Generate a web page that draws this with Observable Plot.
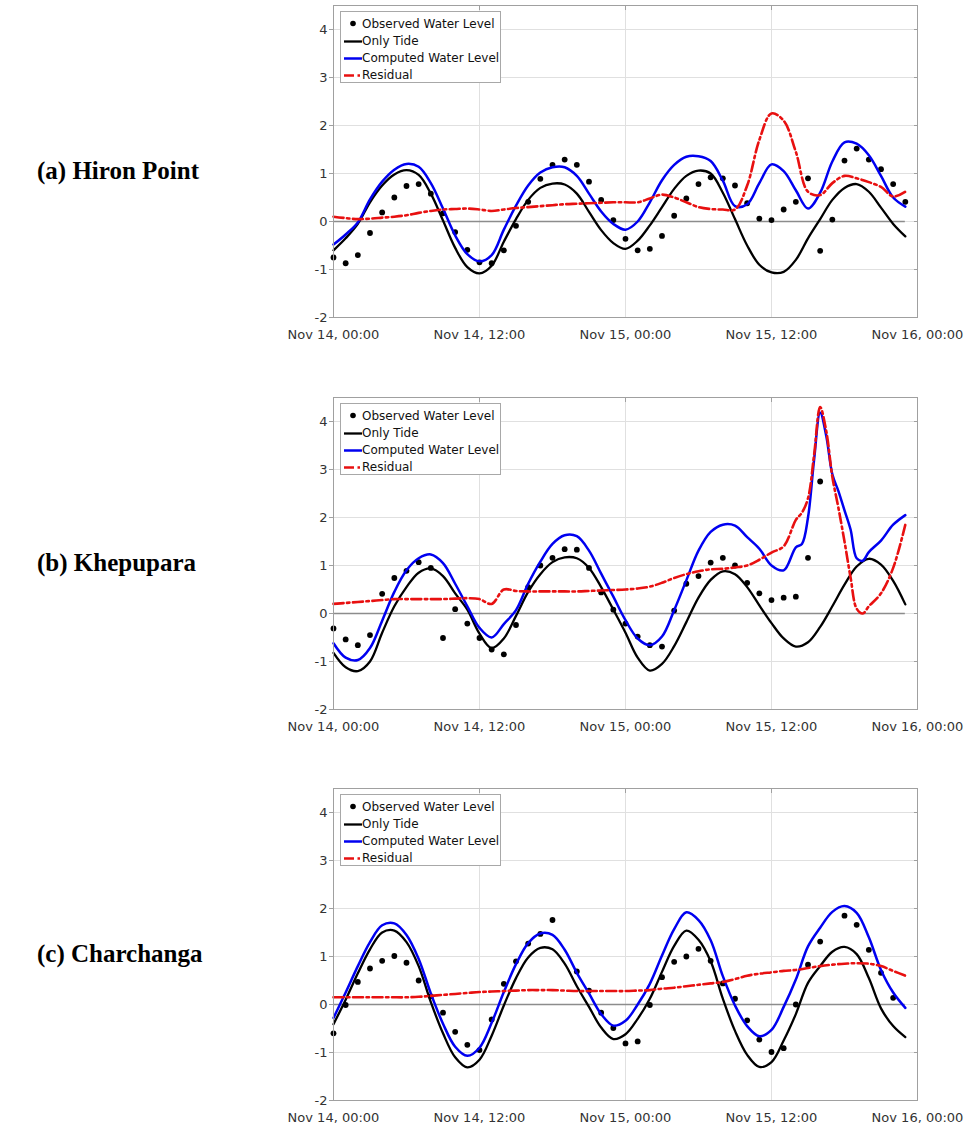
<!DOCTYPE html>
<html>
<head>
<meta charset="utf-8">
<script src="https://cdn.jsdelivr.net/npm/d3@7"></script>
<script src="https://cdn.jsdelivr.net/npm/@observablehq/plot@0.6"></script>
<style>
  body { margin: 0; background: #fff; }
  #root { position: relative; width: 966px; height: 1126px; overflow: hidden; background: #fff; }
  .panel { position: absolute; left: 0; width: 966px; height: 343px; }
  .panel svg { position: absolute; left: 0; top: 0; }
  .station { position: absolute; left: 37px; top: 156px; font-family: "Liberation Serif", "Times New Roman", serif;
             font-weight: bold; font-size: 25px; line-height: 30px; color: #000; white-space: nowrap; }
  .legend { position: absolute; left: 340px; top: 11px; width: 161px; height: 72px; box-sizing: border-box;
            border: 1px solid #a8a8a8; background: #fff; font-family: "DejaVu Sans", sans-serif; font-size: 12px; color: #111; }
  .legend .row { position: absolute; left: 1px; height: 17px; line-height: 17px; white-space: nowrap; }
  .legend .row svg { position: absolute; left: 1px; top: 0; }
  .legend .row span { position: absolute; left: 20px; top: 0; }
</style>
</head>
<body>
<div id="root"></div>
<script>
// Time axis in hours after Nov 14, 00:00
const tickHours = [0, 12, 24, 36, 48];
const tickLabels = ["Nov 14, 00:00", "Nov 14, 12:00", "Nov 15, 00:00", "Nov 15, 12:00", "Nov 16, 00:00"];
const yTicks = [-2, -1, 0, 1, 2, 3, 4];
const hourly = d3.range(0, 48);

const stations = ["(a) Hiron Point", "(b) Khepupara", "(c) Charchanga"];
const seriesNames = ["Observed Water Level", "Only Tide", "Computed Water Level", "Residual"];

// ---- (a) Hiron Point ----
const hironObsHours = hourly;
const hironObs = [-0.75,-0.87,-0.70,-0.24,0.19,0.50,0.74,0.78,0.58,0.17,-0.22,-0.59,-0.85,-0.87,-0.60,-0.09,
  0.41,0.89,1.18,1.29,1.18,0.83,0.45,0.03,-0.36,-0.60,-0.57,-0.30,0.12,0.48,0.78,0.92,
  0.90,0.75,0.38,0.06,0.03,0.25,0.41,0.90,-0.61,0.04,1.27,1.52,1.29,1.09,0.78,0.41];
const hironTideHours = hourly;
const hironTide = [-0.60,-0.35,-0.05,0.40,0.75,0.98,1.07,0.97,0.58,0.02,-0.55,-0.95,-1.08,-0.92,-0.42,0.05,
  0.45,0.70,0.79,0.77,0.58,0.20,-0.18,-0.45,-0.57,-0.40,-0.08,0.30,0.68,0.95,1.06,1.00,
  0.60,0.05,-0.50,-0.90,-1.06,-1.05,-0.80,-0.35,0.05,0.45,0.70,0.78,0.62,0.29,-0.05,-0.31];
const hironCompHours = hourly;
const hironComp = [-0.48,-0.27,-0.02,0.46,0.83,1.08,1.20,1.14,0.80,0.27,-0.29,-0.68,-0.83,-0.70,-0.17,0.33,
  0.75,1.02,1.13,1.13,0.95,0.58,0.21,-0.05,-0.17,0.00,0.40,0.86,1.18,1.35,1.36,1.26,
  0.85,0.32,0.36,0.80,1.19,1.05,0.65,0.27,0.60,1.25,1.65,1.62,1.38,0.95,0.50,0.31];
const hironResidHours = hourly;
const hironResid = [0.10,0.07,0.05,0.06,0.08,0.10,0.13,0.18,0.22,0.25,0.26,0.27,0.25,0.22,0.25,0.28,
  0.30,0.32,0.34,0.36,0.37,0.38,0.39,0.40,0.40,0.40,0.48,0.56,0.50,0.40,0.30,0.26,
  0.25,0.25,0.75,1.70,2.25,2.10,1.45,0.62,0.55,0.80,0.95,0.90,0.82,0.72,0.52,0.62];

// ---- (b) Khepupara ----
const khepObsHours = d3.range(0, 41);
const khepObs = [-0.31,-0.54,-0.66,-0.45,0.41,0.74,0.89,1.07,0.95,-0.51,0.09,-0.21,-0.51,-0.75,-0.85,-0.24,
  0.55,1.00,1.16,1.34,1.33,0.95,0.44,0.08,-0.21,-0.48,-0.66,-0.69,0.06,0.62,0.78,1.06,
  1.16,1.00,0.64,0.42,0.28,0.33,0.35,1.16,2.75];
const khepTideHours = hourly;
const khepTide = [-0.82,-1.12,-1.20,-1.00,-0.40,0.15,0.55,0.85,0.94,0.78,0.42,0.08,-0.42,-0.72,-0.52,-0.05,
  0.45,0.82,1.07,1.17,1.15,0.95,0.55,0.08,-0.40,-0.92,-1.19,-1.05,-0.68,-0.18,0.33,0.70,
  0.88,0.82,0.55,0.17,-0.20,-0.52,-0.69,-0.60,-0.28,0.15,0.60,0.98,1.14,1.02,0.68,0.19];
const khepCompHours = [...d3.range(0, 39), 38.5, 39, 39.5, 40, 40.5, 41, 41.5, 42, 42.5, 43, 43.5, 44, 45, 46, 47]
  .filter((h, i, a) => a.indexOf(h) === i).sort((a, b) => a - b);
const khepComp = [-0.62,-0.92,-0.97,-0.72,-0.15,0.45,0.90,1.15,1.23,1.05,0.62,0.15,-0.30,-0.50,-0.22,0.07,
  0.62,1.08,1.45,1.63,1.61,1.31,0.83,0.35,-0.14,-0.52,-0.66,-0.48,0.07,0.69,1.31,1.70,
  1.85,1.83,1.59,1.35,1.00,0.90,1.38,1.45,2.00,3.20,4.18,3.70,2.90,2.55,2.15,1.75,1.15,1.10,1.28,1.52,1.85,2.05];
const khepResidHours = khepCompHours;
const khepResid = [0.20,0.22,0.24,0.26,0.28,0.30,0.30,0.30,0.30,0.30,0.31,0.32,0.30,0.20,0.50,0.47,
  0.46,0.46,0.46,0.46,0.46,0.47,0.48,0.49,0.50,0.52,0.56,0.64,0.74,0.82,0.88,0.92,
  0.93,0.96,1.00,1.12,1.27,1.40,1.95,2.10,2.40,3.30,4.30,3.80,2.85,2.20,1.50,0.75,0.10,0.00,0.15,0.42,0.95,1.85];

// ---- (c) Charchanga ----
const charObsHours = [...d3.range(0, 19), ...d3.range(20, 41), ...d3.range(42, 47)];
const charObs = [-0.60,-0.01,0.47,0.75,0.91,1.01,0.87,0.50,0.17,-0.17,-0.57,-0.84,-0.95,-0.31,0.43,0.90,
  1.27,1.47,1.76,0.69,0.29,-0.17,-0.49,-0.81,-0.77,-0.01,0.57,0.89,1.00,1.16,0.91,0.44,
  0.12,-0.33,-0.73,-0.99,-0.91,0.00,0.83,1.31,1.85,1.66,1.14,0.66,0.14];
const charTideHours = hourly;
const charTide = [-0.41,0.10,0.65,1.15,1.50,1.54,1.30,0.80,0.05,-0.60,-1.10,-1.31,-1.15,-0.65,-0.02,0.55,
  0.98,1.18,1.15,0.85,0.38,-0.05,-0.48,-0.72,-0.62,-0.30,0.12,0.68,1.22,1.54,1.35,0.90,
  0.12,-0.55,-1.05,-1.30,-1.20,-0.75,-0.20,0.45,0.80,1.10,1.20,1.05,0.55,-0.08,-0.45,-0.68];
const charCompHours = hourly;
const charComp = [-0.28,0.25,0.80,1.30,1.65,1.69,1.45,0.95,0.23,-0.40,-0.88,-1.07,-0.90,-0.38,0.26,0.84,
  1.28,1.48,1.45,1.14,0.66,0.23,-0.20,-0.44,-0.34,0.00,0.43,1.02,1.57,1.92,1.76,1.34,
  0.59,-0.02,-0.45,-0.66,-0.53,-0.05,0.52,1.21,1.60,1.93,2.05,1.91,1.40,0.72,0.25,-0.07];
const charResidHours = hourly;
const charResid = [0.15,0.15,0.15,0.15,0.15,0.15,0.15,0.16,0.18,0.20,0.22,0.24,0.26,0.27,0.28,0.29,
  0.30,0.30,0.30,0.29,0.28,0.28,0.28,0.28,0.28,0.29,0.30,0.33,0.35,0.38,0.41,0.44,
  0.47,0.53,0.60,0.64,0.67,0.70,0.72,0.76,0.80,0.83,0.85,0.86,0.85,0.80,0.70,0.60];

const colors = { obs: "#000000", tide: "#000000", comp: "#0000f0", resid: "#e81010" };
const residDash = "10,3.5,2.5,3.5";

const pairs = (hours, values) => hours.map((h, i) => ({ h, v: values[i] }));

const panels = [
  { obs: pairs(hironObsHours, hironObs), tide: pairs(hironTideHours, hironTide),
    comp: pairs(hironCompHours, hironComp), resid: pairs(hironResidHours, hironResid) },
  { obs: pairs(khepObsHours, khepObs), tide: pairs(khepTideHours, khepTide),
    comp: pairs(khepCompHours, khepComp), resid: pairs(khepResidHours, khepResid) },
  { obs: pairs(charObsHours, charObs), tide: pairs(charTideHours, charTide),
    comp: pairs(charCompHours, charComp), resid: pairs(charResidHours, charResid) }
];
const panelTops = [0, 392, 783];

function drawPanel(p) {
  const [h0, h1] = d3.extent(p.tide, d => d.h);
  return Plot.plot({
    width: 966, height: 343,
    marginLeft: 333, marginRight: 49, marginTop: 5, marginBottom: 26,
    style: { fontFamily: "DejaVu Sans, sans-serif", fontSize: "13px", color: "#333", background: "transparent" },
    x: { domain: [0, 48], label: null },
    y: { domain: [-2, 4.5], label: null },
    marks: [
      Plot.gridX(tickHours, { stroke: "#e0e0e0", strokeOpacity: 1 }),
      Plot.gridY(yTicks, { stroke: "#e0e0e0", strokeOpacity: 1 }),
      Plot.ruleY([0], { x1: h0, x2: h1, stroke: "#8c8c8c", strokeWidth: 1.5 }),
      Plot.dot(p.obs, { x: "h", y: "v", r: 2.9, fill: colors.obs, stroke: null }),
      Plot.line(p.tide, { x: "h", y: "v", stroke: colors.tide, strokeWidth: 2.3, curve: "catmull-rom" }),
      Plot.line(p.comp, { x: "h", y: "v", stroke: colors.comp, strokeWidth: 2.5, curve: "catmull-rom" }),
      Plot.line(p.resid, { x: "h", y: "v", stroke: colors.resid, strokeWidth: 2.6, curve: "catmull-rom",
                           strokeDasharray: residDash }),
      Plot.frame({ stroke: "#a0a0a0" }),
      Plot.axisX(tickHours, { tickFormat: h => tickLabels[tickHours.indexOf(h)], tickSize: 0, tickPadding: 12, label: null }),
      Plot.axisX(tickHours, { anchor: "top", tickSize: 4, dy: 4, tickFormat: () => "", stroke: "#a0a0a0", label: null }),
      Plot.axisY(yTicks, { tickFormat: d => String(d), tickSize: 4, tickPadding: 2, stroke: "#a0a0a0", label: null }),
      Plot.axisY(yTicks, { anchor: "right", tickSize: 4, dx: -4, tickFormat: () => "", stroke: "#a0a0a0", label: null })
    ]
  });
}

function legendSymbol(i) {
  const svg = d3.create("svg").attr("width", 20).attr("height", 17);
  if (i === 0) {
    svg.append("circle").attr("cx", 10).attr("cy", 7.5).attr("r", 2.8).attr("fill", colors.obs);
  } else {
    const stroke = [null, colors.tide, colors.comp, colors.resid][i];
    const line = svg.append("line").attr("x1", 1).attr("x2", 19).attr("y1", 8.5).attr("y2", 8.5)
      .attr("stroke", stroke).attr("stroke-width", i === 1 ? 2.3 : 2.5);
    if (i === 3) line.attr("stroke-dasharray", residDash);
  }
  return svg.node();
}

const root = document.getElementById("root");
panels.forEach((p, k) => {
  const div = document.createElement("div");
  div.className = "panel";
  div.style.top = panelTops[k] + "px";
  div.appendChild(drawPanel(p));

  const label = document.createElement("div");
  label.className = "station";
  label.textContent = stations[k];
  div.appendChild(label);

  const legend = document.createElement("div");
  legend.className = "legend";
  seriesNames.forEach((name, i) => {
    const row = document.createElement("div");
    row.className = "row";
    row.style.top = (3.5 + 17.2 * i) + "px";
    row.appendChild(legendSymbol(i));
    const span = document.createElement("span");
    span.textContent = name;
    row.appendChild(span);
    legend.appendChild(row);
  });
  div.appendChild(legend);
  root.appendChild(div);
});
</script>
</body>
</html>
